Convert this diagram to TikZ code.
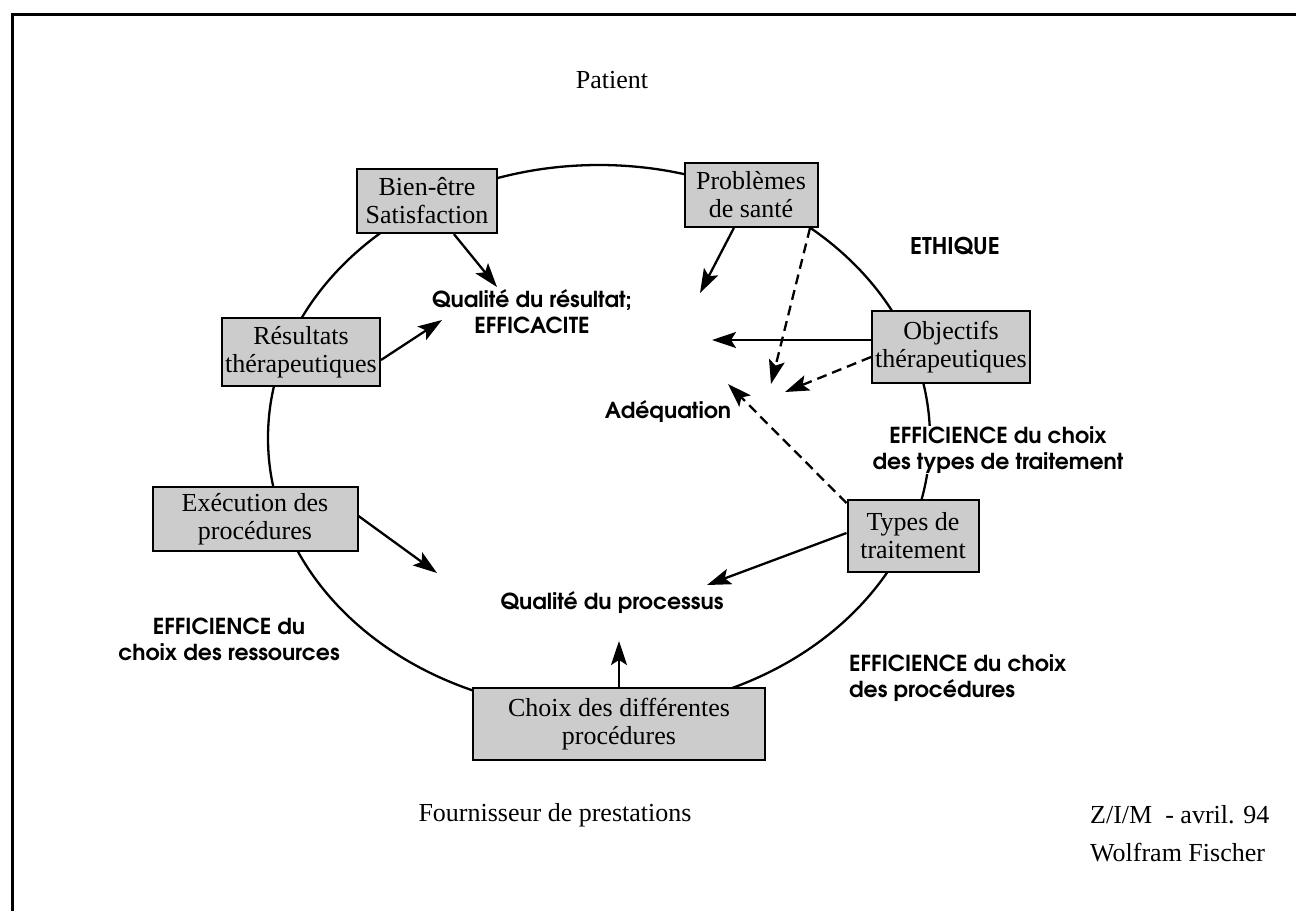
\documentclass[tikz,border=0pt]{standalone}
\usepackage{fontspec}
\setmainfont{Liberation Serif}
\newfontfamily\dgGeo{texgyreadventor-bold.otf}
\usetikzlibrary{arrows.meta}
\newcommand\dgSerif{\fontsize{26}{29}\selectfont}
\newcommand\dgBoxFont{\fontsize{26}{28}\selectfont}
\newcommand\dgSans{\dgGeo\fontsize{22}{26}\selectfont}
\begin{document}
\begin{tikzpicture}[x=1pt,y=-1pt,
  box/.style={draw, line width=2pt, fill=black!20, align=center, inner sep=0pt, font=\dgBoxFont},
  serif/.style={inner sep=0pt, font=\dgSerif},
  lab/.style={inner sep=1pt, align=center, font=\dgSans},
  arr/.style={line width=2.3pt, -{Stealth[length=24pt,width=16pt,inset=5pt]}},
  darr/.style={arr, dash pattern=on 10pt off 6pt}]
\useasboundingbox (0,0) rectangle (1296,911);
% outer frame (left and top edges)
\draw[line width=3pt] (12,911) -- (12,14) -- (1296,14);
% the cycle
\draw[line width=2.3pt] (599,438) ellipse [x radius=331, y radius=273];

% boxes on the cycle
\node[box, minimum width=140pt, minimum height=64pt] (bien)  at (427,201) {Bien-être\\Satisfaction};
\node[box, minimum width=133pt, minimum height=64pt] (prob)  at (751,195) {Problèmes\\de santé};
\node[box, minimum width=158pt, minimum height=68pt] (res)   at (301,352) {Résultats\\thérapeutiques};
\node[box, minimum width=158pt, minimum height=72pt] (obj)   at (951,347) {Objectifs\\thérapeutiques};
\node[box, minimum width=205pt, minimum height=64pt] (exec)  at (255,519) {Exécution des\\procédures};
\node[box, minimum width=131pt, minimum height=72pt] (types) at (913,536) {Types de\\traitement};
\node[box, minimum width=292pt, minimum height=72pt] (choix) at (619,724) {Choix des différentes\\procédures};

% texts
\node[serif] (patient) at (612,80) {Patient};
\node[serif] (four) at (555,815) {Fournisseur de prestations};
\node[serif, anchor=west] (zim) at (1090,815) {Z/I/M \ - avril. 94};
\node[serif, anchor=west] (wf) at (1090,853) {Wolfram Fischer};

\node[lab, font=\dgGeo\fontsize{23}{26}\selectfont] (ethique) at (955,246) {ETHIQUE};
\node[lab] (qres) at (532,312) {Qualité du résultat;\\EFFICACITE};
\node[lab] (adeq) at (668,412) {Adéquation};
\node[lab, fill=white] (effty) at (998,450) {EFFICIENCE du choix\\des types de traitement};
\node[lab] (qproc) at (612,603) {Qualité du processus};
\node[lab] (effres) at (229,639) {EFFICIENCE du\\choix des ressources};
\node[lab, align=left, anchor=west] (effproc) at (848,678) {EFFICIENCE du choix\\des procédures};

% arrow tips
\coordinate (t1) at (497,287);
\coordinate (t2) at (700,293);
\coordinate (t3) at (442,320);
\coordinate (t4) at (712,340);
\coordinate (t5) at (771,384);
\coordinate (t6) at (785,392);
\coordinate (t7) at (728,384);
\coordinate (t8) at (707,585);
\coordinate (t9) at (437,573);
\coordinate (t10) at (619,641);

% influences
\draw[arr] (bien) -- (t1);
\draw[arr] (prob) -- (t2);
\draw[arr] ([yshift=-8pt]res.east) -- (t3);
\draw[arr] ([yshift=7pt]obj.west) -- (t4);
\draw[darr] ([xshift=59pt]prob.south) -- (t5);
\draw[darr] ([yshift=-10pt]obj.west) -- (t6);
\draw[darr] ([yshift=-4pt]types.north west) -- (t7);
\draw[arr] ([yshift=3pt]types.west) -- (t8);
\draw[arr] ([yshift=3pt]exec.east) -- (t9);
\draw[arr] (choix.north) -- (t10);
\end{tikzpicture}
\end{document}
